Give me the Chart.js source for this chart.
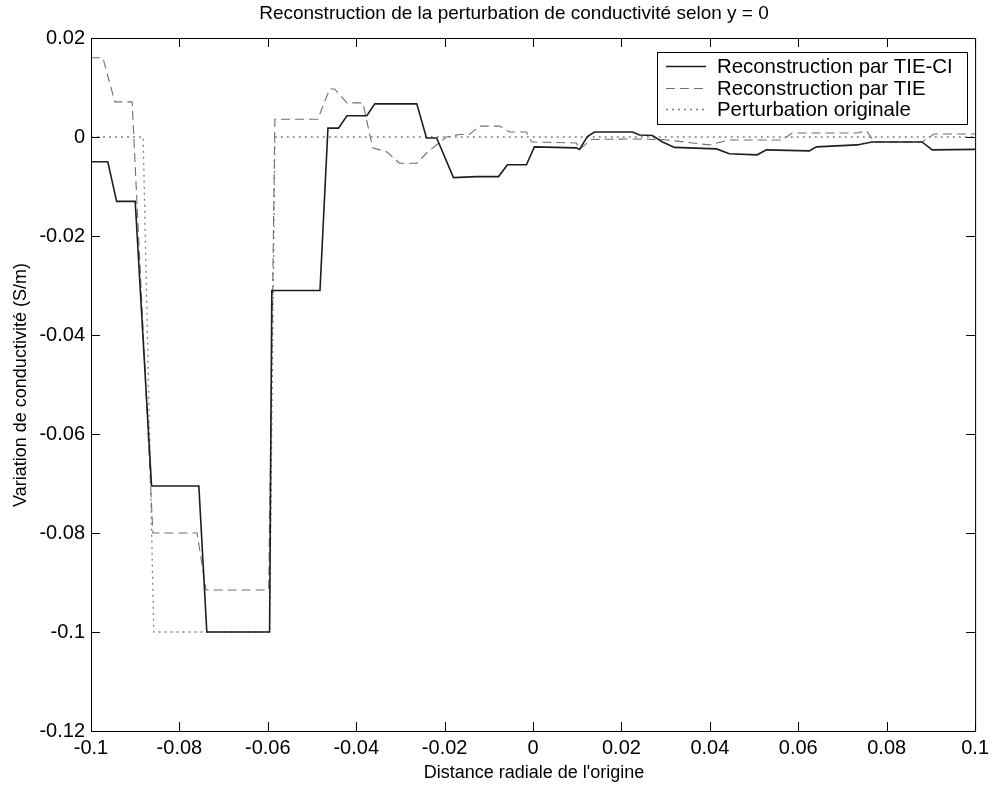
<!DOCTYPE html>
<html>
<head>
<meta charset="utf-8">
<script src="https://cdn.jsdelivr.net/npm/chart.js@4.4.0/dist/chart.umd.min.js"></script>
<style>
  body { margin: 0; background: #fff; }
  canvas { display: block; }
</style>
</head>
<body>
<canvas id="myChart" width="994" height="789"></canvas>
<script>
// Reconstruction par TIE-CI (solid)
var tieCiX = [-0.1, -0.0962, -0.0942, -0.0900, -0.0863, -0.0756, -0.0738, -0.0596, -0.0591, -0.0482,
    -0.0464, -0.0440, -0.0421, -0.0376, -0.0358, -0.0263, -0.0241, -0.0218, -0.0180, -0.0128,
    -0.0078, -0.0058, -0.0015, 0.0003, 0.0098, 0.0105, 0.0123, 0.0139, 0.0225, 0.0241,
    0.0270, 0.0293, 0.0320, 0.0415, 0.0444, 0.0507, 0.0528, 0.0625, 0.0641, 0.0733,
    0.0767, 0.0880, 0.0903, 0.1];
var tieCiY = [-0.005, -0.005, -0.013, -0.013, -0.0705, -0.0705, -0.100, -0.100, -0.031, -0.031,
    0.0018, 0.0018, 0.0043, 0.0043, 0.0067, 0.0067, -0.0002, -0.0002, -0.0082, -0.0080,
    -0.0080, -0.0056, -0.0056, -0.0020, -0.0022, -0.0025, 0.0001, 0.0010, 0.0010, 0.0004,
    0.0003, -0.0010, -0.0021, -0.0024, -0.0034, -0.0036, -0.0026, -0.0028, -0.0020, -0.0016,
    -0.0010, -0.0010, -0.0026, -0.0025];

// Reconstruction par TIE (dashed)
var tieX = [-0.1, -0.0973, -0.0946, -0.0907, -0.0860, -0.0760, -0.0740, -0.0598, -0.0584, -0.0487,
    -0.0460, -0.0449, -0.0421, -0.0385, -0.0363, -0.0331, -0.0302, -0.0263, -0.0238, -0.0196,
    -0.0166, -0.0144, -0.0121, -0.0076, -0.0053, -0.0015, -0.0003, 0.0098, 0.0105, 0.0132,
    0.0225, 0.0293, 0.0399, 0.0444, 0.0564, 0.0586, 0.0641, 0.0733, 0.0754, 0.0772,
    0.0880, 0.0907, 0.1];
var tieY = [0.016, 0.016, 0.0071, 0.0071, -0.080, -0.080, -0.0915, -0.0915, 0.0036, 0.0036,
    0.0097, 0.0097, 0.0069, 0.0069, -0.0022, -0.0030, -0.0053, -0.0053, -0.0030, 0.0000,
    0.0005, 0.0005, 0.0022, 0.0022, 0.0010, 0.0010, -0.0010, -0.0012, -0.0025, -0.0005,
    -0.0004, -0.0005, -0.0016, -0.0006, -0.0006, 0.0008, 0.0008, 0.0008, 0.0013, -0.0010,
    -0.0010, 0.0006, 0.0006];

// Perturbation originale (dotted)
var origX = [-0.1, -0.0882, -0.0858, -0.0596, -0.0584, 0.1];
var origY = [0, 0, -0.1, -0.1, 0, 0];

var xTicks = [-0.1, -0.08, -0.06, -0.04, -0.02, 0, 0.02, 0.04, 0.06, 0.08, 0.1];
var yTicks = [0.02, 0, -0.02, -0.04, -0.06, -0.08, -0.1, -0.12];

var seriesNames = ['Reconstruction par TIE-CI', 'Reconstruction par TIE', 'Perturbation originale'];

function toPoints(xs, ys) {
    return xs.map(function (x, i) { return { x: x, y: ys[i] }; });
}

function fmt(v) {
    return String(Number(v.toFixed(2)));
}

var FONT = '"Liberation Sans", Arial, sans-serif';

// frame, inward ticks, title, axis labels and legend, MATLAB style
var matlabLook = {
    id: 'matlabLook',
    afterDraw: function (chart) {
        var c = chart.ctx, a = chart.chartArea;
        var xs = chart.scales.x, ys = chart.scales.y;
        c.save();
        c.strokeStyle = '#000';
        c.lineWidth = 1;
        c.setLineDash([]);
        c.strokeRect(a.left + 0.5, a.top + 0.5, a.right - a.left, a.bottom - a.top);
        var tl = 9;
        c.beginPath();
        xTicks.forEach(function (t) {
            var px = Math.round(xs.getPixelForValue(t)) + 0.5;
            c.moveTo(px, a.bottom); c.lineTo(px, a.bottom - tl);
            c.moveTo(px, a.top); c.lineTo(px, a.top + tl);
        });
        yTicks.forEach(function (t) {
            var py = Math.round(ys.getPixelForValue(t)) + 0.5;
            c.moveTo(a.left, py); c.lineTo(a.left + tl, py);
            c.moveTo(a.right, py); c.lineTo(a.right - tl, py);
        });
        c.stroke();

        c.fillStyle = '#000';
        c.textAlign = 'center';
        c.textBaseline = 'middle';
        c.font = '19px ' + FONT;
        c.fillText('Reconstruction de la perturbation de conductivité selon y = 0', 514, 14);
        c.font = '18px ' + FONT;
        c.fillText('Distance radiale de l\'origine', 534, 773);
        c.save();
        c.translate(21, 385);
        c.rotate(-Math.PI / 2);
        c.fillText('Variation de conductivité (S/m)', 0, 0);
        c.restore();

        // legend box
        var lx = 657, ly = 52, lw = 310, lh = 72;
        c.fillStyle = '#fff';
        c.fillRect(lx, ly, lw, lh);
        c.strokeRect(lx + 0.5, ly + 0.5, lw, lh);
        var rows = [66, 88, 109];
        chart.data.datasets.forEach(function (ds, i) {
            c.strokeStyle = ds.borderColor;
            c.lineWidth = ds.borderWidth;
            c.setLineDash(ds.borderDash || []);
            c.beginPath();
            c.moveTo(666, rows[i] + 0.5);
            c.lineTo(706, rows[i] + 0.5);
            c.stroke();
            c.setLineDash([]);
            c.fillStyle = '#000';
            c.textAlign = 'left';
            c.font = '20.4px ' + FONT;
            c.fillText(ds.label, 717, rows[i] + 1);
        });
        c.restore();
    }
};

var ctx = document.getElementById('myChart').getContext('2d');
var chart = new Chart(ctx, {
    type: 'scatter',
    data: {
        datasets: [{
            label: seriesNames[0],
            data: toPoints(tieCiX, tieCiY),
            borderColor: '#1e1e1e',
            borderWidth: 1.6
        }, {
            label: seriesNames[1],
            data: toPoints(tieX, tieY),
            borderColor: '#707070',
            borderWidth: 1.1,
            borderDash: [9, 5]
        }, {
            label: seriesNames[2],
            data: toPoints(origX, origY),
            borderColor: '#808080',
            borderWidth: 1.3,
            borderDash: [2, 4]
        }]
    },
    options: {
        responsive: false,
        animation: false,
        showLine: true,
        elements: { point: { radius: 0 }, line: { tension: 0 } },
        layout: { padding: { top: 38, right: 18, left: 0, bottom: 0 } },
        plugins: {
            legend: { display: false },
            title: { display: false },
            tooltip: { enabled: false }
        },
        scales: {
            x: {
                type: 'linear',
                min: -0.1,
                max: 0.1,
                afterBuildTicks: function (s) { s.ticks = xTicks.map(function (v) { return { value: v }; }); },
                afterFit: function (s) { s.height = 58; },
                grid: { display: false, drawTicks: false },
                border: { display: false },
                ticks: {
                    padding: 5,
                    maxRotation: 0,
                    autoSkip: false,
                    color: '#000',
                    font: { family: FONT, size: 20 },
                    callback: function (v) { return fmt(v); }
                }
            },
            y: {
                type: 'linear',
                min: -0.12,
                max: 0.02,
                afterBuildTicks: function (s) { s.ticks = yTicks.map(function (v) { return { value: v }; }); },
                afterFit: function (s) { s.width = 91; },
                grid: { display: false, drawTicks: false },
                border: { display: false },
                ticks: {
                    padding: 6,
                    autoSkip: false,
                    color: '#000',
                    font: { family: FONT, size: 20 },
                    callback: function (v) { return fmt(v); }
                }
            }
        }
    },
    plugins: [matlabLook]
});
</script>
</body>
</html>
